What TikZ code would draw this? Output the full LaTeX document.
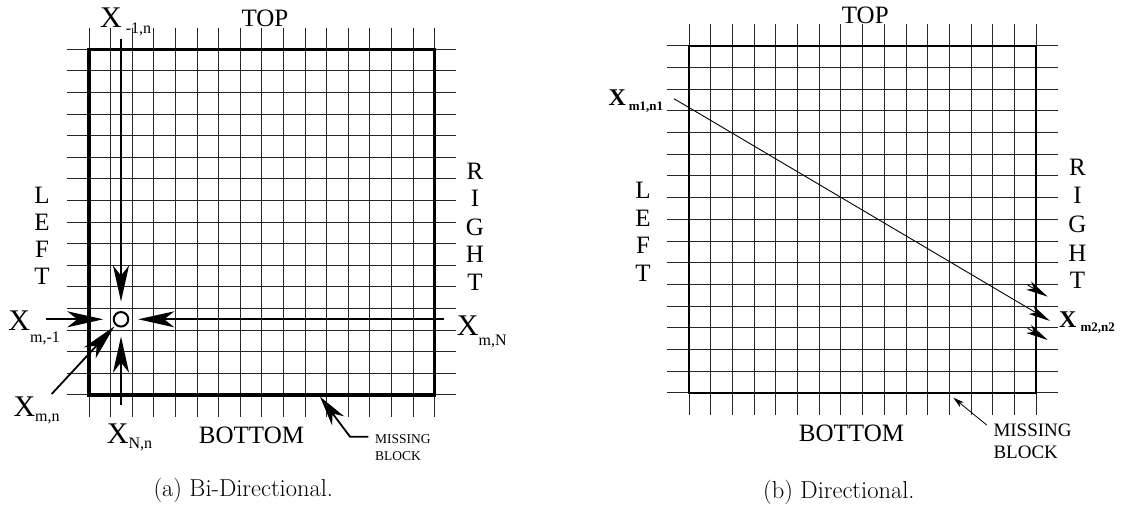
\documentclass[tikz,border=0pt]{standalone}
\usepackage{fontspec}
\newfontfamily\tms{Liberation Serif}
\usetikzlibrary{arrows.meta}
\newcommand{\fsz}[1]{\fontsize{#1}{#1}\selectfont}
\newcommand{\Xsub}[3]{X\kern#3pt\raisebox{-#2pt}{\fsz{16}#1}}
\newcommand{\Xbsub}[3]{X\kern#3pt\raisebox{-#2pt}{\fsz{13}#1}}
\tikzset{
  gridline/.style={line width=0.9pt, black!85},
  borderA/.style={line width=3.4pt, line cap=rect},
  borderB/.style={line width=2.2pt, line cap=rect},
  lbl/.style={font=\tms\fsz{25}, inner sep=0pt, anchor=base},
  xlab/.style={font=\tms\fsz{30}, inner sep=0pt, anchor=base west},
  xbold/.style={font=\tms\bfseries\fsz{24}, inner sep=0pt, anchor=base west},
  smalltxt/.style={font=\tms\fsz{13.5}, inner sep=0pt, anchor=base west},
  smalltxtB/.style={font=\tms\fsz{19}, inner sep=0pt, anchor=base west},
  captext/.style={font=\fsz{24.5}, inner sep=0pt, anchor=base west},
  shaft/.style={line width=1.8pt},
  bighead/.style={-{Stealth[length=36pt,width=16pt,inset=10pt]}},
  thinhead/.style={-{Stealth[length=22pt,width=9.5pt,inset=6pt]}},
}
\begin{document}
\begin{tikzpicture}[x=1pt,y=-1pt]
\useasboundingbox (0,0) rectangle (1122,508);

% ---------- left panel grid ----------
\foreach \i in {0,...,16} {
  \draw[gridline] ({89+21.6*\i},{49.3-21.6}) -- ({89+21.6*\i},{49.3+17*21.6});
  \draw[gridline] ({89-21.6},{49.3+21.6*\i}) -- ({89+17*21.6},{49.3+21.6*\i});
}
\draw[borderA] (89,49.3) rectangle (434.6,394.9);

% ---------- right panel grid ----------
\foreach \i in {0,...,16} {
  \draw[gridline] ({689+21.7*\i},{45.7-21.7}) -- ({689+21.7*\i},{45.7+17*21.7});
  \draw[gridline] ({689-21.7},{45.7+21.7*\i}) -- ({689+17*21.7},{45.7+21.7*\i});
}
\draw[borderB] (689,45.7) rectangle (1036.2,392.9);

% ---------- left panel labels ----------
\node[lbl] (topA) at (265,26.7) {TOP};
\node[lbl] (botA) at (251.5,443.3) {BOTTOM};
\node[lbl] (lA1) at (42,203.3) {L};
\node[lbl] (lA2) at (42,230) {E};
\node[lbl] (lA3) at (42,257) {F};
\node[lbl] (lA4) at (42,284.3) {T};
\node[lbl] (rA1) at (475,179) {R};
\node[lbl] (rA2) at (475,206.7) {I};
\node[lbl] (rA3) at (475,235) {G};
\node[lbl] (rA4) at (475,262.7) {H};
\node[lbl] (rA5) at (475,290) {T};
\node[smalltxt] (missA) at (375,443.3) {MISSING};
\node[smalltxt] (blockA) at (375,460.7) {BLOCK};

\node[xlab] (xt) at (100,27.3) {\Xsub{-1,n}{6}{4}};
\node[xlab] (xw) at (8.3,330) {\Xsub{m,-1}{12}{0}};
\node[xlab] (xd) at (13.3,416.7) {\Xsub{m,n}{5}{0}};
\node[xlab] (xs) at (106.7,443.3) {\Xsub{N,n}{5}{0}};
\node[xlab] (xe) at (456.7,335) {\Xsub{m,N}{10}{0}};

% ---------- left panel arrows ----------
\node[circle, draw, line width=2pt, minimum size=14.5pt, inner sep=0pt] (c) at (121,319.3) {};
\coordinate (ts) at (121,39);
\coordinate (ls) at (46,319.3);
\coordinate (rs) at (444,319.3);
\coordinate (bs) at (121,405);
\coordinate (ds) at (51.7,394);
\draw[shaft,bighead,shorten >=9.5pt] (ts) -- (c);
\draw[shaft,bighead,shorten >=9.5pt] (ls) -- (c);
\draw[shaft,bighead,shorten >=9pt] (rs) -- (c);
\draw[shaft,bighead,shorten >=9pt] (bs) -- (c);
\draw[shaft,bighead,shorten >=1.5pt] (ds) -- (c);

\coordinate (mAa) at (368.3,436.7);
\coordinate (mAb) at (350,436.7);
\coordinate (mAt) at (320,396.7);
\draw[shaft,-{Stealth[length=30pt,width=15pt,inset=9pt]}] (mAa) -- (mAb) -- (mAt);

% ---------- right panel labels ----------
\node[lbl] (topB) at (865.3,24) {TOP};
\node[lbl] (botB) at (851.5,441.7) {BOTTOM};
\node[lbl] (lB1) at (643,198.5) {L};
\node[lbl] (lB2) at (643,226) {E};
\node[lbl] (lB3) at (643,253.5) {F};
\node[lbl] (lB4) at (643,281) {T};
\node[lbl] (rB1) at (1077.5,175.7) {R};
\node[lbl] (rB2) at (1077.5,204) {I};
\node[lbl] (rB3) at (1077.5,232) {G};
\node[lbl] (rB4) at (1077.5,261.7) {H};
\node[lbl] (rB5) at (1077.5,288.3) {T};
\node[smalltxtB] (missB) at (993.3,436.7) {MISSING};
\node[smalltxtB] (blockB) at (993.3,458) {BLOCK};

\node[xbold] (x1) at (608.3,106) {\Xbsub{m1,n1}{4.7}{3}};
\node[xbold] (x2) at (1059,327.7) {\Xbsub{m2,n2}{4}{4}};

% ---------- right panel arrows ----------
\coordinate (d1) at (674,98.7);
\coordinate (d2) at (1050,321);
\draw[line width=0.9pt,thinhead] (d1) -- (d2);
\coordinate (h1s) at (1027.7,285.0);
\coordinate (h1t) at (1047.7,296.7);
\coordinate (h3s) at (1027.7,328.3);
\coordinate (h3t) at (1047.7,340);
\draw[line width=0.9pt,thinhead] (h1s) -- (h1t);
\draw[line width=0.9pt,thinhead] (h3s) -- (h3t);
\coordinate (mBs) at (986.7,425);
\coordinate (mBt) at (953.3,397.7);
\draw[line width=0.8pt,-{Stealth[length=11pt,width=6pt,inset=3pt]}] (mBs) -- (mBt);

% ---------- captions ----------
\node[captext] (capA) at (153.3,496) {(a) Bi-Directional.};
\node[captext] (capB) at (763,498) {(b) Directional.};
\end{tikzpicture}
\end{document}
